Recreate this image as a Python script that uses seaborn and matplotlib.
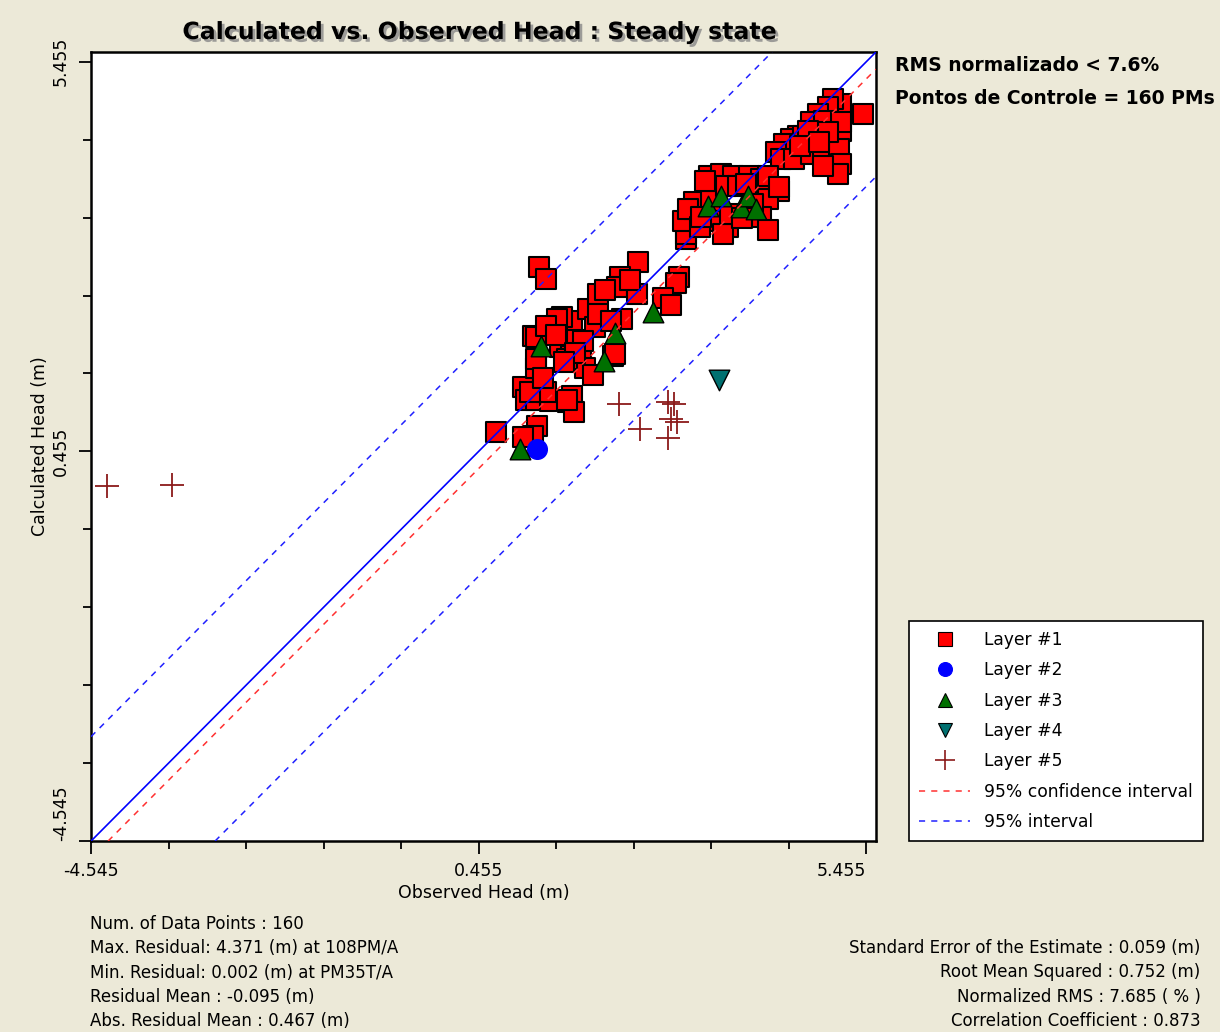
import pandas as pd
import seaborn as sns
import matplotlib.pyplot as plt
import matplotlib.patheffects as pe
from matplotlib.lines import Line2D
from matplotlib.ticker import FixedLocator

# observed / calculated head per layer (m)
layer1_obs = [0.68, 1.21, 1.16, 1.03, 1.03, 1.06, 1.19, 1.38, 1.61, 1.66, 1.68, 1.60,
              1.19, 1.19, 1.16, 1.38, 1.51, 1.51, 1.64, 1.77, 1.83, 1.93, 1.60, 1.64,
              1.66, 1.73, 1.87, 1.96, 2.19, 2.31, 1.23, 1.32, 2.51, 2.28, 2.24, 2.50,
              1.99, 1.99, 2.16, 1.53, 1.19, 3.04, 3.00, 2.83, 2.93, 2.22, 3.13, 3.13,
              3.09, 3.23, 3.23, 3.45, 3.42, 3.58, 3.73, 3.94, 4.10, 3.64, 3.80, 4.00,
              4.13, 4.33, 4.19, 4.10, 4.19, 3.67, 3.49, 3.16, 3.31, 5.41, 5.13, 5.13,
              5.03, 4.96, 4.83, 4.74, 4.91, 5.13, 5.13, 4.57, 4.48, 4.64, 4.40, 4.29,
              4.36, 4.52, 4.74, 4.90, 5.10, 5.13, 5.09, 4.90, 4.19, 4.33, 4.96, 4.70,
              3.90, 3.38, 3.32, 3.61, 3.99, 1.32, 1.12, 1.46, 1.32, 1.80, 2.08, 2.41,
              1.45, 1.70, 1.28, 1.55, 3.70, 3.85, 4.60, 4.85]
layer1_calc = [0.70, 0.78, 0.65, 0.64, 1.28, 1.12, 1.12, 1.10, 1.09, 1.17, 0.96, 1.12,
               1.53, 1.64, 1.93, 2.00, 2.15, 1.79, 1.85, 1.74, 1.53, 1.44, 1.64, 1.93,
               2.13, 1.89, 2.28, 2.05, 1.68, 2.15, 2.82, 2.67, 2.88, 2.69, 2.56, 2.47,
               2.47, 2.22, 2.13, 2.18, 1.92, 2.69, 2.62, 2.43, 2.34, 1.70, 3.18, 3.24,
               3.41, 3.57, 3.66, 3.67, 3.99, 4.02, 3.99, 3.99, 3.95, 3.86, 3.86, 3.85,
               3.86, 3.80, 3.69, 3.46, 3.30, 3.33, 3.41, 3.57, 3.33, 4.79, 4.81, 4.91,
               4.98, 4.88, 4.79, 4.68, 4.70, 4.57, 4.68, 4.50, 4.46, 4.50, 4.40, 4.30,
               4.21, 4.21, 4.27, 4.27, 4.34, 4.14, 4.01, 4.12, 3.99, 3.85, 4.56, 4.57,
               3.89, 3.93, 3.46, 3.24, 3.63, 1.22, 1.22, 2.15, 2.07, 1.87, 2.52, 2.66,
               1.95, 1.72, 1.40, 1.60, 3.50, 3.45, 4.38, 4.42]
layer2_obs = [1.21]
layer2_calc = [0.48]
layer3_obs = [0.99, 1.26, 2.07, 2.22, 2.71, 3.41, 3.58, 3.84, 3.93, 4.03]
layer3_calc = [0.48, 1.81, 1.61, 1.98, 2.24, 3.60, 3.73, 3.59, 3.73, 3.57]
layer4_obs = [3.55]
layer4_calc = [1.37]
layer5_obs = [-4.34, -3.50, 2.26, 2.53, 2.90, 2.97, 3.02, 2.90, 2.93]
layer5_calc = [0.01, 0.02, 1.06, 0.74, 1.09, 1.06, 0.83, 0.63, 0.87]

# reference lines: offsets from the 1:1 line
conf_offset = -0.22
interval_offsets = [1.34, -1.60]

axis_min, axis_max = -4.545, 5.58
major_ticks = [-4.545, 0.455, 5.455]
minor_ticks = [-4.545 + i for i in range(11)]

stats_left = ["Num. of Data Points : 160",
              "Max. Residual: 4.371 (m) at 108PM/A",
              "Min. Residual: 0.002 (m) at PM35T/A",
              "Residual Mean : -0.095 (m)",
              "Abs. Residual Mean : 0.467 (m)"]
stats_right = ["Standard Error of the Estimate : 0.059 (m)",
               "Root Mean Squared : 0.752 (m)",
               "Normalized RMS : 7.685 ( % )",
               "Correlation Coefficient : 0.873"]

frames = []
for name, xs, ys in [("Layer #1", layer1_obs, layer1_calc),
                     ("Layer #2", layer2_obs, layer2_calc),
                     ("Layer #3", layer3_obs, layer3_calc),
                     ("Layer #4", layer4_obs, layer4_calc),
                     ("Layer #5", layer5_obs, layer5_calc)]:
    frames.append(pd.DataFrame({"observed": xs, "calculated": ys, "layer": name}))
df = pd.concat(frames, ignore_index=True)

styles = {
    "Layer #1": dict(marker="s", color="#ff0000", s=200, edgecolor="black", linewidth=1.5),
    "Layer #2": dict(marker="o", color="#0000ff", s=200, edgecolor="#0000ff", linewidth=1),
    "Layer #3": dict(marker="^", color="#007000", s=220, edgecolor="black", linewidth=1),
    "Layer #4": dict(marker="v", color="#007070", s=220, edgecolor="black", linewidth=1),
    "Layer #5": dict(marker="+", color="#8b1a1a", s=320, linewidth=1.3),
}

bg = "#ece9d8"
fig = plt.figure(figsize=(12.2, 10.32), dpi=100, facecolor=bg)
ax = fig.add_axes([0.0746, 0.185, 0.6434, 0.7646])
ax.set_facecolor("white")

for name, st in styles.items():
    sub = df[df["layer"] == name]
    sns.scatterplot(data=sub, x="observed", y="calculated", ax=ax, legend=False,
                    zorder=2, **st)

ax.axline((0, 0), slope=1, color="#0000ff", lw=1.2, zorder=3)
ax.axline((0, conf_offset), slope=1, color="#ff3030", lw=1.1, ls=(0, (4, 4)), zorder=3)
for off in interval_offsets:
    ax.axline((0, off), slope=1, color="#2020ff", lw=1.1, ls=(0, (4, 4)), zorder=3)

ax.set_xlim(axis_min, axis_max)
ax.set_ylim(axis_min, axis_max)
for axis in (ax.xaxis, ax.yaxis):
    axis.set_major_locator(FixedLocator(major_ticks))
    axis.set_minor_locator(FixedLocator(minor_ticks))
ax.set_xticklabels([f"{t:.3f}" for t in major_ticks], fontsize=12.5)
ax.set_yticklabels([f"{t:.3f}" for t in major_ticks], fontsize=12.5, rotation=90, va="center")
ax.get_xticklabels()[-1].set_horizontalalignment("right")
ax.get_yticklabels()[0].set_verticalalignment("bottom")
ax.tick_params(which="major", length=9, width=1.3, direction="out", pad=6)
ax.tick_params(which="minor", length=6, width=1.3, direction="out")
for sp in ax.spines.values():
    sp.set_linewidth(1.8)
    sp.set_color("black")
ax.set_xlabel("Observed Head (m)", fontsize=12.5, labelpad=3)
ax.set_ylabel("Calculated Head (m)", fontsize=12.5, labelpad=2)

fig.text(0.393, 0.969, "Calculated vs. Observed Head : Steady state", ha="center",
         va="center", fontsize=17, fontweight="bold",
         path_effects=[pe.withSimplePatchShadow(offset=(2, -2), shadow_rgbFace="#888888", alpha=0.8)])

fig.text(0.734, 0.937, "RMS normalizado < 7.6%", fontsize=13.5, fontweight="bold", va="center")
fig.text(0.734, 0.905, "Pontos de Controle = 160 PMs", fontsize=13.5, fontweight="bold", va="center")

handles = []
for name, st in styles.items():
    if st["marker"] == "+":
        h = Line2D([], [], ls="none", marker="+", color=st["color"], markersize=14, mew=1.2)
    else:
        h = Line2D([], [], ls="none", marker=st["marker"], markerfacecolor=st["color"],
                   markeredgecolor="black" if name != "Layer #2" else st["color"],
                   markersize=10, mew=0.8)
    handles.append(h)
handles.append(Line2D([], [], color="#ff3030", lw=1.1, ls=(0, (4, 4))))
handles.append(Line2D([], [], color="#2020ff", lw=1.1, ls=(0, (4, 4))))
labels = list(styles.keys()) + ["95% confidence interval", "95% interval"]
leg = fig.legend(handles, labels, loc="lower left", bbox_to_anchor=(0.745, 0.185),
                 borderaxespad=0, fontsize=12.3, frameon=True, fancybox=False,
                 edgecolor="black", facecolor="white", framealpha=1, labelspacing=0.72,
                 handlelength=3.0, handletextpad=0.8, borderpad=0.6)
leg.get_frame().set_linewidth(1.2)

for i, line in enumerate(stats_left):
    fig.text(0.074, 0.105 - i * 0.0237, line, fontsize=12, va="center")
for i, line in enumerate(stats_right):
    fig.text(0.984, 0.0815 - i * 0.0237, line, fontsize=12, va="center", ha="right")

fig.savefig("out.png", dpi=100, facecolor=bg)
